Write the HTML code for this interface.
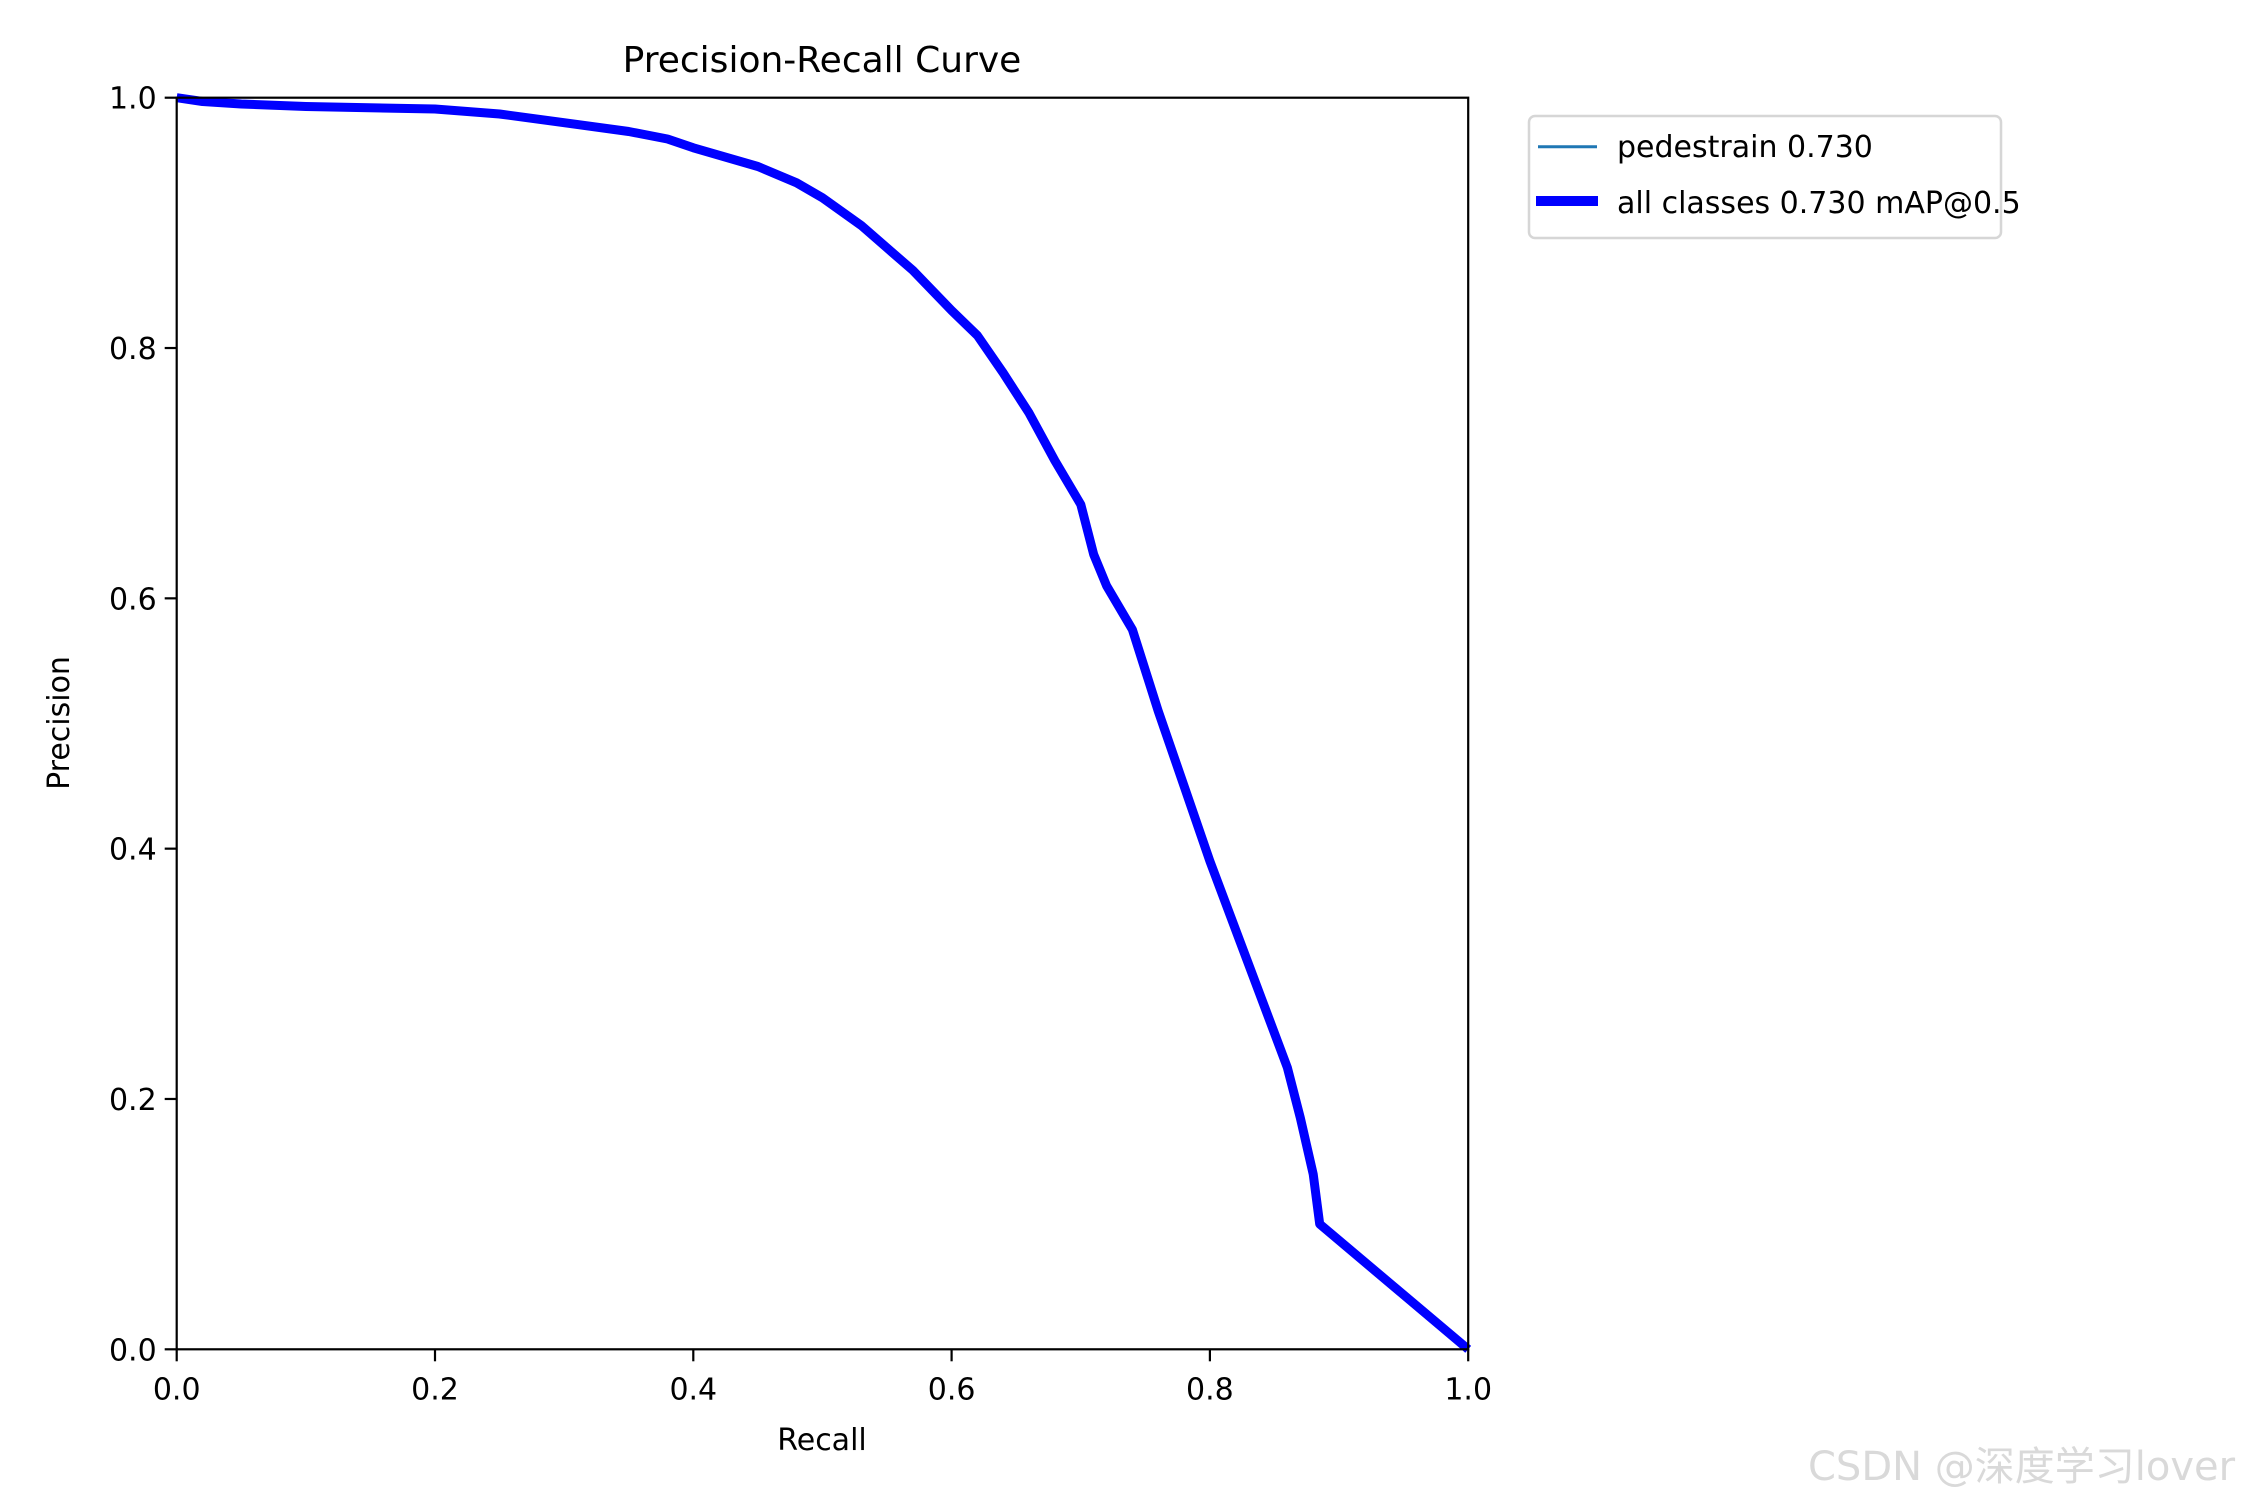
<!DOCTYPE html>
<html><head><meta charset="utf-8"><style>
html,body{margin:0;padding:0;background:#fff;}
svg{display:block;font-family:"DejaVu Sans","Liberation Sans","Noto Sans CJK SC",sans-serif;}
</style></head><body>
<svg id="chart" width="2250" height="1500" viewBox="0 0 2250 1500">
<rect width="2250" height="1500" fill="#fff"/>
<text x="822" y="72" font-size="36" text-anchor="middle">Precision-Recall Curve</text>
<g id="ticks"></g>
<g id="series"></g>
<rect x="176.7" y="97.7" width="1291.5" height="1251.6" fill="none" stroke="#000" stroke-width="2.2"/>
<text x="822" y="1450" font-size="30" text-anchor="middle">Recall</text>
<text transform="translate(69,723) rotate(-90)" font-size="30" text-anchor="middle">Precision</text>
<g>
<rect x="1529" y="116" width="472" height="122" rx="6" fill="#fff" stroke="#d6d6d6" stroke-width="2.5"/>
<line x1="1538" y1="146.7" x2="1597" y2="146.7" stroke="#1f77b4" stroke-width="3"/>
<text x="1617" y="157" font-size="30">pedestrain 0.730</text>
<line x1="1536" y1="201" x2="1598" y2="201" stroke="#0000ff" stroke-width="10"/>
<text x="1617" y="213" font-size="30">all classes 0.730 mAP@0.5</text>
</g>
<text x="1808" y="1480" font-size="40" fill="#d9d9d9">CSDN @深度学习lover</text>
</svg>
<script>
const recall = [0,0.02,0.05,0.1,0.2,0.25,0.3,0.35,0.38,0.4,0.45,0.48,0.5,0.53,0.55,0.57,0.6,0.62,0.64,0.66,0.68,0.7,0.71,0.72,0.74,0.76,0.78,0.8,0.82,0.84,0.86,0.87,0.88,0.885,1.0];
const precision = [1.0,0.997,0.995,0.993,0.991,0.987,0.98,0.973,0.967,0.96,0.945,0.932,0.92,0.898,0.88,0.862,0.83,0.81,0.78,0.748,0.71,0.675,0.6,0.625,0.575,0.51,0.45,0.39,0.335,0.28,0.225,0.185,0.14,0.1,0.0];
const xTicks = ["0.0","0.2","0.4","0.6","0.8","1.0"];
const yTicks = ["0.0","0.2","0.4","0.6","0.8","1.0"];
</script>
<script>
// fix ordering glitch: keep monotone pairs
precision[22]=0.635; precision[23]=0.61;
const NS="http://www.w3.org/2000/svg";
const X0=176.7,X1=1468.2,Y0=1349.3,Y1=97.7;
const sx=v=>X0+v*(X1-X0), sy=v=>Y0-v*(Y0-Y1);
const tg=document.getElementById('ticks');
xTicks.forEach(t=>{const v=parseFloat(t);
 const l=document.createElementNS(NS,'line');
 l.setAttribute('x1',sx(v));l.setAttribute('x2',sx(v));l.setAttribute('y1',Y0);l.setAttribute('y2',Y0+12);
 l.setAttribute('stroke','#000');l.setAttribute('stroke-width','2.2');
 
 
 tg.appendChild(l);
 const tx=document.createElementNS(NS,'text');
 tx.setAttribute('x',sx(v));tx.setAttribute('y',Y0+50);tx.setAttribute('font-size','30');tx.setAttribute('text-anchor','middle');
 tx.textContent=t;
 
 
 tg.appendChild(tx);});
yTicks.forEach(t=>{const v=parseFloat(t);
 const l=document.createElementNS(NS,'line');
 l.setAttribute('x1',X0-12);l.setAttribute('x2',X0);l.setAttribute('y1',sy(v));l.setAttribute('y2',sy(v));
 l.setAttribute('stroke','#000');l.setAttribute('stroke-width','2.2');
 
 
 tg.appendChild(l);
 const tx=document.createElementNS(NS,'text');
 tx.setAttribute('x',X0-20);tx.setAttribute('y',sy(v)+11);tx.setAttribute('font-size','30');tx.setAttribute('text-anchor','end');
 tx.textContent=t;
 
 
 tg.appendChild(tx);});
const sg=document.getElementById('series');
const d=recall.map((r,i)=>(i?'L':'M')+sx(r).toFixed(1)+','+sy(precision[i]).toFixed(1)).join(' ');
const p1=document.createElementNS(NS,'path');
p1.setAttribute('d',d);p1.setAttribute('fill','none');p1.setAttribute('stroke','#1f77b4');p1.setAttribute('stroke-width','3');


sg.appendChild(p1);
const p2=document.createElementNS(NS,'path');
p2.setAttribute('d',d);p2.setAttribute('fill','none');p2.setAttribute('stroke','#0000ff');p2.setAttribute('stroke-width','9');p2.setAttribute('stroke-linejoin','round');


sg.appendChild(p2);
</script>
</body></html>
